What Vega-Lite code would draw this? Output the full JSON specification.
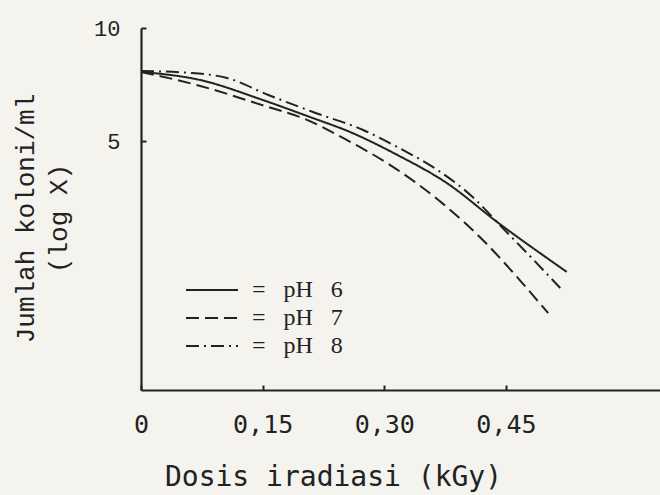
{
  "$schema": "https://vega.github.io/schema/vega-lite/v6.json",
  "width": 519,
  "height": 362,
  "autosize": {"type": "none"},
  "padding": {"left": 141, "top": 28, "right": 0, "bottom": 105},
  "background": "#f4f3ee",
  "config": {
    "view": {"stroke": null},
    "axis": {"grid": false, "domainColor": "#222", "domainWidth": 2.2, "tickColor": "#222", "tickWidth": 2, "labelColor": "#222", "titleColor": "#222", "titleFontWeight": "normal"}
  },
  "data": {
    "values": [
      {"dose": 0.0, "logx": 8.06, "ph": "pH 6"},
      {"dose": 0.073, "logx": 7.7, "ph": "pH 6"},
      {"dose": 0.15, "logx": 6.82, "ph": "pH 6"},
      {"dose": 0.208, "logx": 6.07, "ph": "pH 6"},
      {"dose": 0.258, "logx": 5.4, "ph": "pH 6"},
      {"dose": 0.316, "logx": 4.39, "ph": "pH 6"},
      {"dose": 0.377, "logx": 3.15, "ph": "pH 6"},
      {"dose": 0.439, "logx": 1.43, "ph": "pH 6"},
      {"dose": 0.525, "logx": -0.78, "ph": "pH 6"},
      {"dose": 0.0, "logx": 8.06, "ph": "pH 7"},
      {"dose": 0.073, "logx": 7.44, "ph": "pH 7"},
      {"dose": 0.153, "logx": 6.55, "ph": "pH 7"},
      {"dose": 0.202, "logx": 5.98, "ph": "pH 7"},
      {"dose": 0.249, "logx": 5.14, "ph": "pH 7"},
      {"dose": 0.313, "logx": 3.81, "ph": "pH 7"},
      {"dose": 0.371, "logx": 2.27, "ph": "pH 7"},
      {"dose": 0.424, "logx": 0.54, "ph": "pH 7"},
      {"dose": 0.467, "logx": -1.14, "ph": "pH 7"},
      {"dose": 0.502, "logx": -2.6, "ph": "pH 7"},
      {"dose": 0.0, "logx": 8.1, "ph": "pH 8"},
      {"dose": 0.063, "logx": 8.01, "ph": "pH 8"},
      {"dose": 0.106, "logx": 7.79, "ph": "pH 8"},
      {"dose": 0.157, "logx": 7.04, "ph": "pH 8"},
      {"dose": 0.212, "logx": 6.29, "ph": "pH 8"},
      {"dose": 0.274, "logx": 5.49, "ph": "pH 8"},
      {"dose": 0.316, "logx": 4.74, "ph": "pH 8"},
      {"dose": 0.369, "logx": 3.64, "ph": "pH 8"},
      {"dose": 0.409, "logx": 2.53, "ph": "pH 8"},
      {"dose": 0.446, "logx": 1.16, "ph": "pH 8"},
      {"dose": 0.482, "logx": -0.17, "ph": "pH 8"},
      {"dose": 0.517, "logx": -1.49, "ph": "pH 8"}
    ]
  },
  "mark": {"type": "line", "interpolate": "monotone", "color": "#222", "strokeWidth": 2},
  "encoding": {
    "x": {
      "field": "dose",
      "type": "quantitative",
      "scale": {"domain": [0, 0.64], "nice": false, "zero": false},
      "axis": {
        "values": [0, 0.15, 0.3, 0.45],
        "labelExpr": "datum.value == 0 ? '0' : replace(format(datum.value, '.2f'), '.', ',')",
        "labelFont": "DejaVu Sans Mono",
        "labelFontSize": 25,
        "labelFlush": false,
        "labelOverlap": false,
        "tickSize": -5,
        "labelPadding": 27,
        "title": "Dosis iradiasi (kGy)",
        "titleFont": "DejaVu Sans Mono",
        "titleFontSize": 28,
        "titleX": 192,
        "titleY": 95,
        "titleBaseline": "alphabetic",
        "titleAlign": "center"
      }
    },
    "y": {
      "field": "logx",
      "type": "quantitative",
      "scale": {"domain": [-6, 10], "nice": false, "zero": false},
      "axis": {
        "values": [5, 10],
        "labelFont": "Liberation Mono",
        "labelFontSize": 22,
        "tickSize": -5,
        "labelPadding": 26,
        "labelBaseline": "middle",
        "title": ["Jumlah koloni/ml", "(log X)"],
        "titleFont": "Liberation Mono",
        "titleFontSize": 26,
        "titleLineHeight": 33,
        "titleAngle": -90,
        "titleX": -129,
        "titleY": 190,
        "titleBaseline": "top",
        "titleAlign": "center"
      }
    },
    "strokeDash": {
      "field": "ph",
      "type": "nominal",
      "scale": {"domain": ["pH 6", "pH 7", "pH 8"], "range": [[1, 0], [13, 6], [13, 5, 2, 5]]},
      "legend": {
        "orient": "none",
        "legendX": 44,
        "legendY": 248,
        "title": null,
        "symbolType": "stroke",
        "symbolSize": 2704,
        "symbolStrokeWidth": 2,
        "symbolStrokeColor": "#222",
        "labelFont": "Liberation Serif",
        "labelFontSize": 24,
        "labelColor": "#222",
        "labelExpr": "'=\u00a0\u00a0\u00a0' + replace(datum.label, ' ', '\u00a0\u00a0\u00a0')",
        "labelOffset": 13,
        "clipHeight": 28,
        "rowPadding": 0,
        "padding": 0
      }
    }
  }
}
